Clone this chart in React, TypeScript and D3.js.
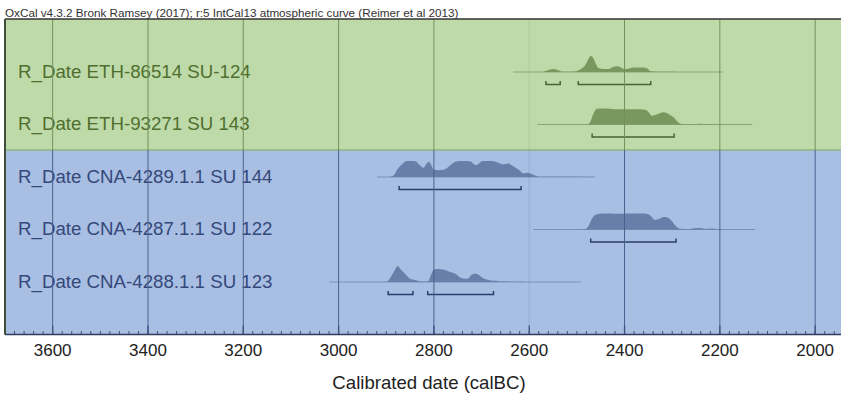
import React from 'react';
import * as d3 from 'd3';

const titleText = 'OxCal v4.3.2 Bronk Ramsey (2017); r:5 IntCal13 atmospheric curve (Reimer et al 2013)';
const axisTitle = 'Calibrated date (calBC)';

const rowLabels = [
  'R_Date ETH-86514 SU-124',
  'R_Date ETH-93271 SU 143',
  'R_Date CNA-4289.1.1 SU 144',
  'R_Date CNA-4287.1.1 SU 122',
  'R_Date CNA-4288.1.1 SU 123',
];
const rowGroups = ['green', 'green', 'blue', 'blue', 'blue'];

// extent of the thin baseline of each likelihood (calBC)
const baselineExtents: [number, number][] = [
  [2634, 2193],
  [2583, 2132],
  [2919, 2462],
  [2592, 2126],
  [3020, 2492],
];

// 95.4% ranges (calBC)
const hpdRanges: [number, number][][] = [
  [[2565, 2535], [2497, 2345]],
  [[2468, 2296]],
  [[2873, 2617]],
  [[2471, 2292]],
  [[2896, 2844], [2813, 2675]],
];

// probability profiles [year calBC, relative probability]
const dist1: [number, number][] = [
  [2640, 0], [2580, 0], [2570, 0.02], [2560, 0.12], [2548, 0.18], [2538, 0.1], [2530, 0.02],
  [2510, 0.02], [2500, 0.06], [2490, 0.22], [2482, 0.45], [2476, 0.8], [2471, 1.0], [2465, 0.85],
  [2460, 0.5], [2455, 0.25], [2448, 0.2], [2435, 0.18], [2425, 0.3], [2416, 0.36], [2408, 0.3],
  [2400, 0.18], [2392, 0.2], [2385, 0.26], [2375, 0.28], [2360, 0.28], [2352, 0.22], [2346, 0.05],
  [2330, 0.02], [2300, 0.01], [2290, 0], [2190, 0],
];
const dist2: [number, number][] = [
  [2590, 0], [2490, 0], [2478, 0.02], [2472, 0.15], [2465, 0.7], [2458, 0.98], [2445, 1.0],
  [2430, 0.98], [2420, 0.95], [2410, 0.96], [2395, 0.96], [2380, 0.96], [2367, 0.95], [2355, 0.9],
  [2348, 0.72], [2343, 0.55], [2335, 0.6], [2325, 0.72], [2318, 0.76], [2308, 0.66], [2297, 0.45],
  [2287, 0.12], [2280, 0.03], [2260, 0.02], [2245, 0.04], [2235, 0.03], [2220, 0.03], [2210, 0.01],
  [2200, 0], [2130, 0],
];
const dist3: [number, number][] = [
  [2925, 0], [2895, 0], [2885, 0.1], [2875, 0.55], [2865, 0.85], [2857, 1.0], [2845, 1.0],
  [2839, 0.98], [2830, 0.75], [2822, 0.58], [2815, 0.85], [2810, 0.95], [2805, 0.7], [2800, 0.45],
  [2790, 0.42], [2780, 0.45], [2773, 0.55], [2763, 0.8], [2755, 0.95], [2745, 1.0], [2730, 1.0],
  [2722, 0.95], [2713, 0.75], [2705, 0.85], [2699, 0.98], [2688, 1.0], [2675, 0.98], [2666, 0.9],
  [2657, 0.8], [2644, 0.85], [2635, 0.7], [2622, 0.45], [2612, 0.22], [2605, 0.26], [2598, 0.22],
  [2590, 0.12], [2580, 0.02], [2570, 0.01], [2460, 0],
];
const dist4: [number, number][] = [
  [2595, 0], [2490, 0], [2482, 0.03], [2476, 0.2], [2468, 0.7], [2458, 0.95], [2445, 1.0],
  [2430, 1.0], [2415, 0.98], [2405, 0.99], [2395, 1.0], [2380, 1.0], [2365, 1.0], [2352, 0.97],
  [2345, 0.85], [2336, 0.6], [2328, 0.65], [2318, 0.78], [2310, 0.75], [2300, 0.5], [2292, 0.2],
  [2283, 0.05], [2265, 0.03], [2250, 0.1], [2240, 0.1], [2230, 0.04], [2220, 0.06], [2212, 0.05],
  [2205, 0.01], [2190, 0], [2125, 0],
];
const dist5: [number, number][] = [
  [3025, 0], [2905, 0], [2898, 0.03], [2890, 0.35], [2882, 0.75], [2876, 1.0], [2870, 0.8],
  [2860, 0.5], [2850, 0.2], [2840, 0.12], [2832, 0.05], [2820, 0.02], [2812, 0.05], [2806, 0.45],
  [2801, 0.75], [2794, 0.82], [2787, 0.8], [2780, 0.78], [2769, 0.66], [2759, 0.56], [2752, 0.45],
  [2745, 0.28], [2735, 0.2], [2728, 0.22], [2722, 0.42], [2715, 0.52], [2710, 0.5], [2699, 0.28],
  [2690, 0.15], [2680, 0.1], [2670, 0.08], [2660, 0.03], [2640, 0.02], [2625, 0.01], [2610, 0],
  [2490, 0],
];
const distributions = [dist1, dist2, dist3, dist4, dist5];

const majorTicks = [3600, 3400, 3200, 3000, 2800, 2600, 2400, 2200, 2000];
const minorTicks = d3.range(3700, 1940, -20);

const palette: Record<string, any> = {
  green: {
    bg: '#bfdaa9', fill: '#789860', base: '#88a778', bracket: '#456334', label: '#4f6f2f', grid: '#74915d',
  },
  blue: {
    bg: '#a9bee3', fill: '#697ea8', base: '#7b8fb8', bracket: '#2b3f6c', label: '#34497a', grid: '#4d6190',
  },
};

export default function App() {
  const W = 842;
  const H = 394;
  const left = 5;
  const right = 841;
  const top = 19;
  const split = 150;
  const bottom = 334.5;
  const rowY0 = 72;
  const rowStep = 52.5;
  const peakH = 16;

  const x = d3.scaleLinear().domain([3700, 1950]).range([5, 839]);
  const rowY = (i: number) => rowY0 + rowStep * i;

  const font = 'Arial, "Liberation Sans", Helvetica, sans-serif';

  return (
    <svg width={W} height={H} style={{ position: 'absolute', left: 0, top: 0, background: '#fff' }}>
      {/* backgrounds */}
      <rect x={left} y={top} width={right - left} height={split - top} fill={palette.green.bg} />
      <rect x={left} y={split} width={right - left} height={bottom - split} fill={palette.blue.bg} />
      <line x1={left} x2={right} y1={split} y2={split} stroke="#93b27e" strokeWidth={1.5} />

      {/* labels */}
      {rowLabels.map((lab, i) => (
        <text key={lab} x={18} y={rowY(i) + 5.5} fontSize={18.7} fontFamily={font}
          fill={palette[rowGroups[i]].label}>{lab}</text>
      ))}

      {/* distributions */}
      {distributions.map((dist, i) => {
        const c = palette[rowGroups[i]];
        const y0 = rowY(i);
        const area = d3.area<[number, number]>()
          .x((d) => x(d[0]))
          .y0(y0)
          .y1((d) => y0 - d[1] * peakH)
          .curve(d3.curveMonotoneX);
        const [b0, b1] = baselineExtents[i];
        const by = y0 + 12.5;
        return (
          <g key={i}>
            <line x1={x(b0)} x2={x(b1)} y1={y0} y2={y0} stroke={c.base} strokeWidth={1.2} />
            <path d={area(dist) || ''} fill={c.fill} />
            {hpdRanges[i].map(([r0, r1], j) => (
              <path key={j}
                d={`M${x(r0)},${by - 3.5}V${by}H${x(r1)}V${by - 3.5}`}
                fill="none" stroke={c.bracket} strokeWidth={1.5} />
            ))}
          </g>
        );
      })}

      {/* gridlines */}
      {majorTicks.map((t) => (
        <g key={t} opacity={t === 2600 ? 0.2 : 1}>
          <line x1={x(t)} x2={x(t)} y1={top} y2={split} stroke={palette.green.grid} strokeWidth={1} />
          <line x1={x(t)} x2={x(t)} y1={split} y2={bottom} stroke={palette.blue.grid} strokeWidth={1} />
        </g>
      ))}

      {/* ticks */}
      {minorTicks.map((t) => (
        <line key={t} x1={x(t)} x2={x(t)} y1={bottom - 3.5} y2={bottom} stroke="#3d5282" strokeWidth={1} />
      ))}
      {majorTicks.map((t) => (
        <line key={'m' + t} x1={x(t)} x2={x(t)} y1={bottom - 9} y2={bottom} stroke="#3d5282" strokeWidth={1.3} />
      ))}

      {/* frame */}
      <line x1={left} x2={right} y1={top} y2={top} stroke="#333" strokeWidth={1.5} />
      <line x1={left} x2={right} y1={bottom} y2={bottom} stroke="#2e3d5c" strokeWidth={1.5} />
      <line x1={left} x2={left} y1={top} y2={bottom} stroke="#3f4f3a" strokeWidth={2} />

      {/* tick labels */}
      {majorTicks.map((t) => (
        <text key={'l' + t} x={x(t)} y={356} textAnchor="middle" fontSize={17} fontFamily={font} fill="#222">{t}</text>
      ))}

      <text x={429} y={389} textAnchor="middle" fontSize={18.6} fontFamily={font} fill="#222">{axisTitle}</text>
      <text x={5} y={16.5} fontSize={11.7} fontFamily={font} fill="#333">{titleText}</text>
    </svg>
  );
}
